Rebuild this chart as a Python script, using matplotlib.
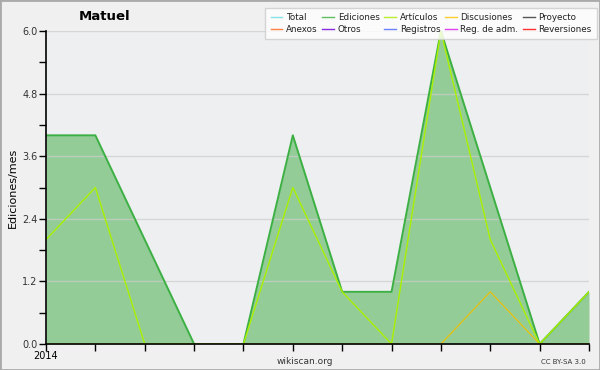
import matplotlib
matplotlib.use("Agg")
import matplotlib.pyplot as plt
from matplotlib.patches import Rectangle
from matplotlib.lines import Line2D

months = list(range(12))
ediciones = [4, 4, 2, 0, 0, 4, 1, 1, 6, 3, 0, 1]
articulos = [2, 3, 0, 0, 0, 3, 1, 0, 6, 2, 0, 1]
discusiones = [0, 0, 0, 0, 0, 0, 0, 0, 0, 1, 0, 0]
yticks = [0.0, 1.2, 2.4, 3.6, 4.8, 6.0]
ytick_labels = ["0.0", "1.2", "2.4", "3.6", "4.8", "6.0"]
legend_names = ["Total", "Ediciones", "Artículos", "Discusiones", "Proyecto",
                "Anexos", "Otros", "Registros", "Reg. de adm.", "Reversiones"]
legend_colors = ["#88e0e8", "#5fbf60", "#b8f030", "#ffcc30", "#555555",
                 "#ff8040", "#8a2be2", "#6a80ff", "#e040f0", "#ff3030"]

fig = plt.figure(figsize=(6, 3.7), dpi=100, facecolor="#f0f0f0")
ax = fig.add_axes([46/600, 26/370, 543/600, 313/370])
ax.set_facecolor("#eeeff1")

ax.fill_between(months, ediciones, 0, color="#94cc98", lw=0, zorder=1)
ax.plot(months, ediciones, color="#3cb043", lw=1.4, zorder=3)
ax.plot(months, articulos, color="#aaf000", lw=1.0, zorder=4)
ax.plot(months, discusiones, color="#f0c000", lw=0.8, zorder=3.5)

ax.set_xlim(0, 11)
ax.set_ylim(0, 6.0)
ax.set_yticks(yticks)
ax.set_yticklabels(ytick_labels)
ax.set_yticks([0.6, 1.8, 3.0, 4.2, 5.4], minor=True)
ax.set_xticks(months)
ax.set_xticklabels(["2014"] + [""] * 11)
ax.tick_params(axis="both", which="both", direction="out", length=5, width=1,
               labelsize=7, colors="black", pad=1)
ax.tick_params(axis="y", which="major", labelcolor="#333333")
ax.tick_params(axis="x", pad=0)
ax.grid(axis="y", which="major", color="#cccccc", lw=1, alpha=0.7, zorder=2)
ax.set_axisbelow(False)
for s in ["top", "right"]:
    ax.spines[s].set_visible(False)
for s in ["left", "bottom"]:
    ax.spines[s].set_color("black")
    ax.spines[s].set_linewidth(1.2)
    ax.spines[s].set_zorder(5)

ax.set_ylabel("Ediciones/mes", fontsize=8, labelpad=3)
fig.text(105/600, 1 - 17/370, "Matuel", fontsize=9.5, fontweight="bold",
         ha="center", va="center")
fig.text(305/600, 1 - 361/370, "wikiscan.org", fontsize=6.5, ha="center",
         va="center", color="#333333")
fig.text(563/600, 1 - 362/370, "CC BY-SA 3.0", fontsize=5, ha="center",
         va="center", color="#333333")

handles = [Line2D([], [], color=c, lw=1) for c in legend_colors]
order = [0, 5, 1, 6, 2, 7, 3, 8, 4, 9]
leg = fig.legend([handles[i] for i in order], [legend_names[i] for i in order],
                 ncol=5, loc="upper right", bbox_to_anchor=(597/600, 1 - 8/370),
                 fontsize=6.3, frameon=True, fancybox=False, handlelength=1.3,
                 handletextpad=0.45, columnspacing=0.55, labelspacing=0.3,
                 borderpad=0.6, borderaxespad=0)
leg.get_frame().set_facecolor("white")
leg.get_frame().set_edgecolor("#cccccc")
leg.get_frame().set_linewidth(1)
for t in leg.get_texts():
    t.set_color("#222222")

fig.patches.append(Rectangle((0, 0), 1, 1, transform=fig.transFigure,
                             fill=False, edgecolor="#aaaaaa", lw=2))
fig.savefig("out.png", dpi=100, facecolor=fig.get_facecolor())
